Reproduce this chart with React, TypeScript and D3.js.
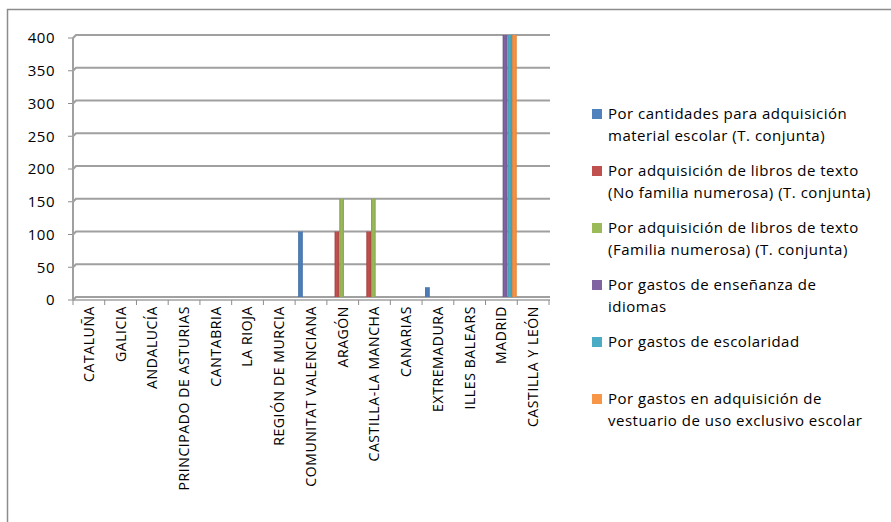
import * as d3 from 'd3';

const categories = [
  'CATALUÑA',
  'GALICIA',
  'ANDALUCÍA',
  'PRINCIPADO DE ASTURIAS',
  'CANTABRIA',
  'LA RIOJA',
  'REGIÓN DE MURCIA',
  'COMUNITAT VALENCIANA',
  'ARAGÓN',
  'CASTILLA-LA MANCHA',
  'CANARIAS',
  'EXTREMADURA',
  'ILLES BALEARS',
  'MADRID',
  'CASTILLA Y LEÓN',
];

const materialEscolar = [0, 0, 0, 0, 0, 0, 0, 100, 0, 0, 0, 15, 0, 0, 0];
const librosNoNumerosa = [0, 0, 0, 0, 0, 0, 0, 0, 100, 100, 0, 0, 0, 0, 0];
const librosNumerosa = [0, 0, 0, 0, 0, 0, 0, 0, 150, 150, 0, 0, 0, 0, 0];
const idiomas = [0, 0, 0, 0, 0, 0, 0, 0, 0, 0, 0, 0, 0, 400, 0];
const escolaridad = [0, 0, 0, 0, 0, 0, 0, 0, 0, 0, 0, 0, 0, 400, 0];
const vestuario = [0, 0, 0, 0, 0, 0, 0, 0, 0, 0, 0, 0, 0, 400, 0];

const yTicks = [0, 50, 100, 150, 200, 250, 300, 350, 400];

const series = [
  { key: 's0', label: ['Por cantidades para adquisición', 'material escolar (T. conjunta)'], values: materialEscolar, color: '#4F81BD' },
  { key: 's1', label: ['Por adquisición de libros de texto', '(No familia numerosa) (T. conjunta)'], values: librosNoNumerosa, color: '#C0504D' },
  { key: 's2', label: ['Por adquisición de libros de texto', '(Familia numerosa) (T. conjunta)'], values: librosNumerosa, color: '#9BBB59' },
  { key: 's3', label: ['Por gastos de enseñanza de', 'idiomas'], values: idiomas, color: '#8064A2' },
  { key: 's4', label: ['Por gastos de escolaridad'], values: escolaridad, color: '#4BACC6' },
  { key: 's5', label: ['Por gastos en adquisición de', 'vestuario de uso exclusivo escolar'], values: vestuario, color: '#F79646' },
];

const FONT = '"Open Sans", "Noto Sans", sans-serif';

export default function App() {
  const plotLeft = 73;
  const plotRight = 549;
  const plotTop = 35;
  const plotBottom = 297;

  const x0 = d3.scaleBand<string>().domain(categories).range([plotLeft, plotRight]).padding(0);
  const x1 = d3
    .scaleBand<string>()
    .domain(series.map(s => s.key))
    .range([3, x0.bandwidth() - 0.5])
    .padding(0);
  const y = d3.scaleLinear().domain([0, 400]).range([plotBottom, plotTop]);

  const legendTop = 114;
  const legendStep = 57;

  return (
    <svg
      width={891}
      height={522}
      style={{ position: 'absolute', left: 0, top: 0, background: '#fff' }}
      fontFamily={FONT}
    >
      <defs>
        {series.map(s => (
          <linearGradient key={s.key} id={`g-${s.key}`} x1="0" x2="1" y1="0" y2="0">
            <stop offset="0%" stopColor={d3.color(s.color)!.darker(0.5).toString()} />
            <stop offset="40%" stopColor={s.color} />
            <stop offset="100%" stopColor={d3.color(s.color)!.darker(0.3).toString()} />
          </linearGradient>
        ))}
      </defs>

      {/* outer frame */}
      <rect x={7.5} y={9.5} width={1000} height={1000} fill="none" stroke="#8c8c8c" strokeWidth={1.5} />

      {/* gridlines */}
      {yTicks.map(t => (
        <g key={t}>
          <path
            d={`M${plotLeft},${y(t) + 3} L${plotLeft + 3},${y(t)} L${plotRight + 1},${y(t)}`}
            fill="none"
            stroke="#a0a0a0"
            strokeWidth={2.2}
          />
          <line x1={plotLeft - 5} x2={plotLeft} y1={y(t) + 3} y2={y(t) + 3} stroke="#8c8c8c" strokeWidth={1} />
          <text
            x={55}
            y={y(t) + 3}
            dy="0.35em"
            textAnchor="end"
            fontSize={15}
            letterSpacing={0.5}
            fill="#000"
          >
            {t}
          </text>
        </g>
      ))}

      {/* walls / floor */}
      <line x1={plotLeft} x2={plotLeft} y1={y(400) + 3} y2={plotBottom + 3} stroke="#a0a0a0" strokeWidth={2} />
      <line x1={plotLeft} x2={plotRight + 1} y1={plotBottom + 3} y2={plotBottom + 3} stroke="#a0a0a0" strokeWidth={1.5} />

      {/* x ticks */}
      {categories.concat(['__end']).map((c, i) => {
        const xx = c === '__end' ? plotRight : x0(c)!;
        return (
          <line key={i} x1={xx} x2={xx} y1={plotBottom + 3} y2={plotBottom + 8} stroke="#8c8c8c" strokeWidth={1} />
        );
      })}

      {/* bars */}
      {series.map(s => (
        <g key={s.key}>
          {categories.map((c, i) => {
            const v = s.values[i];
            if (!v) return null;
            return (
              <rect
                key={c}
                x={x0(c)! + x1(s.key)!}
                y={y(v)}
                width={x1.bandwidth()}
                height={plotBottom - y(v)}
                fill={`url(#g-${s.key})`}
              />
            );
          })}
        </g>
      ))}

      {/* x labels */}
      {categories.map(c => {
        const cx = x0(c)! + x0.bandwidth() / 2;
        return (
          <text
            key={c}
            transform={`translate(${cx},${plotBottom + 9}) rotate(-90)`}
            textAnchor="end"
            dy="0.35em"
            fontSize={14}
            letterSpacing={0.6}
            fill="#000"
          >
            {c}
          </text>
        );
      })}

      {/* legend */}
      {series.map((s, i) => {
        const cy = legendTop + i * legendStep;
        return (
          <g key={s.key}>
            <rect x={592} y={cy - 5} width={10} height={10} fill={s.color} />
            {s.label.map((line, j) => (
              <text key={j} x={608} y={cy + j * 22} dy="0.35em" fontSize={15} letterSpacing={0.5} fill="#000">
                {line}
              </text>
            ))}
          </g>
        );
      })}
    </svg>
  );
}
